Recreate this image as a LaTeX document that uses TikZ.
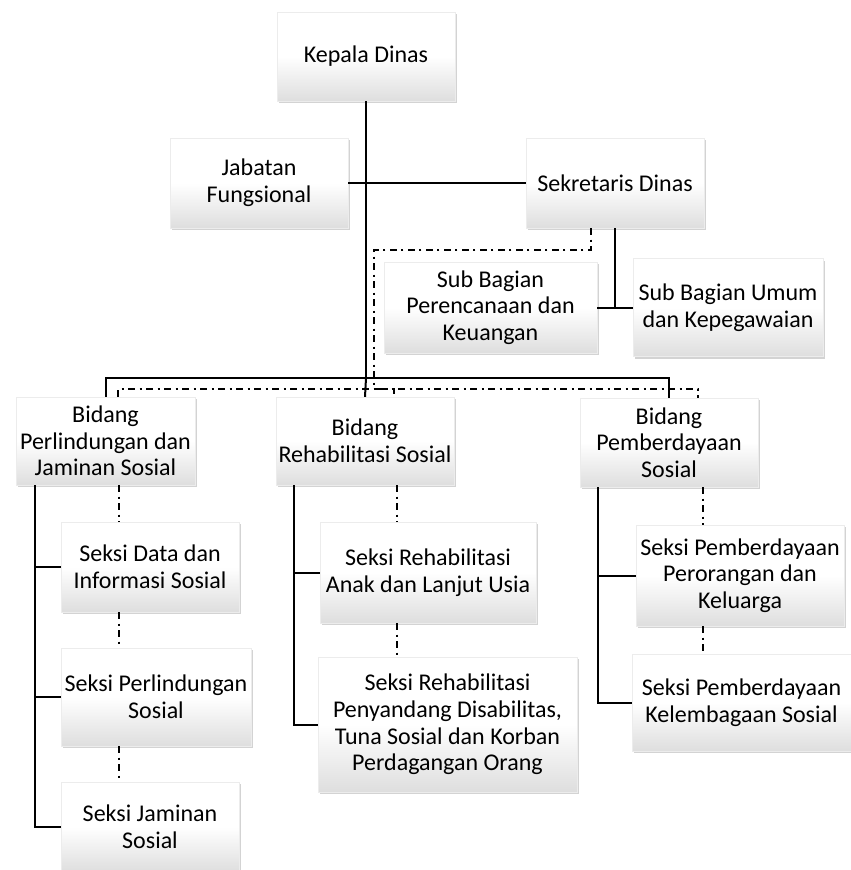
\documentclass[tikz,border=0pt]{standalone}
\usepackage{fontspec}
\setmainfont{Carlito}
\usepackage{tikz}
\usetikzlibrary{shadows}

\begin{document}
\begin{tikzpicture}[
    x=1pt, y=-1pt,
    font=\fontsize{24}{26.7}\selectfont,
    box/.style={rectangle, inner sep=0pt, align=center,
        top color=white, bottom color=gray!26, middle color=white,
        draw=gray!15, line width=0.4pt,
        drop shadow={shadow xshift=1.8pt, shadow yshift=-2.2pt, opacity=0.35}},
    link/.style={line width=2pt, color=black},
    coordlink/.style={line width=1.6pt, color=black,
        dash pattern=on 7pt off 4.5pt on 2pt off 4.5pt}
]
\useasboundingbox (0,0) rectangle (851,870);

% Top level
\node[box, minimum width=178pt, minimum height=89pt] (kepala) at (366,56.5) {Kepala Dinas};
\node[box, minimum width=178pt, minimum height=90pt] (jabatan) at (259,183) {Jabatan\\Fungsional};
\node[box, minimum width=178pt, minimum height=90pt] (sekretaris) at (615,183) {Sekretaris Dinas};

% Sub Bagian
\node[box, minimum width=213pt, minimum height=91pt] (perencanaan) at (490.5,307.5) {Sub Bagian\\Perencanaan dan\\Keuangan};
\node[box, minimum width=190pt, minimum height=98pt] (umum) at (728,307.5) {Sub Bagian Umum\\dan Kepegawaian};

% Bidang
\node[box, minimum width=179pt, minimum height=88pt] (perlindungan) at (105.5,441) {Bidang\\Perlindungan dan\\Jaminan Sosial};
\node[box, minimum width=178pt, minimum height=88pt] (rehab) at (365,441) {Bidang\\Rehabilitasi Sosial};
\node[box, minimum width=178pt, minimum height=89pt] (pemberdayaan) at (669,442.5) {Bidang\\Pemberdayaan\\Sosial};

% Seksi under Perlindungan dan Jaminan Sosial
\node[box, minimum width=178pt, minimum height=90pt] (data) at (150,567) {Seksi Data dan\\Informasi Sosial};
\node[box, minimum width=190pt, minimum height=98pt] (perlsos) at (156,697) {Seksi Perlindungan\\Sosial};
\node[box, minimum width=178pt, minimum height=90pt] (jaminan) at (150,827) {Seksi Jaminan\\Sosial};

% Seksi under Rehabilitasi Sosial
\node[box, minimum width=216pt, minimum height=101pt] (anak) at (428,572.5) {Seksi Rehabilitasi\\Anak dan Lanjut Usia};
\node[box, minimum width=259pt, minimum height=135pt] (penyandang) at (447.5,724.5) {Seksi Rehabilitasi\\Penyandang Disabilitas,\\Tuna Sosial dan Korban\\Perdagangan Orang};

% Seksi under Pemberdayaan Sosial
\node[box, minimum width=208pt, minimum height=101pt] (perorangan) at (740,575.5) {Seksi Pemberdayaan\\Perorangan dan\\Keluarga};
\node[box, minimum width=219pt, minimum height=97pt] (kelembagaan) at (741.5,702.5) {Seksi Pemberdayaan\\Kelembagaan Sosial};

% Command lines
\coordinate (bus) at (366,378);
\draw[link, line width=2.5pt] (kepala.south) -- (bus);
\draw[link] (jabatan.east) -- (sekretaris.west);
\draw[link] (perlindungan.north) |- (bus) -| (pemberdayaan.north);
\draw[link] (bus) -- (rehab.north);
\draw[link] (sekretaris.south) |- (perencanaan.east);
\draw[link] (perencanaan.east) -- (umum.west);

% Coordination lines
\coordinate (cd1) at (374,250);
\coordinate (cd2) at (374,389);
\draw[coordlink] ([xshift=-24pt]sekretaris.south) |- (cd1) -- (cd2);
\draw[coordlink] ([xshift=12.5pt]perlindungan.north) |- (cd2) -| ([xshift=29pt]pemberdayaan.north);
\draw[coordlink] (cd2) -| ([xshift=29pt]rehab.north);

% Bidang to Seksi
\foreach \s in {data,perlsos,jaminan}
  \draw[link] ([xshift=-70.5pt]perlindungan.south) |- (\s.west);
\foreach \s in {anak,penyandang}
  \draw[link] ([xshift=-71pt]rehab.south) |- (\s.west);
\foreach \s in {perorangan,kelembagaan}
  \draw[link] ([xshift=-71pt]pemberdayaan.south) |- (\s.west);

% Dotted links between Seksi
\coordinate (px) at ([xshift=13.5pt]perlindungan.south);
\draw[coordlink] (px) -- (px |- data.north);
\draw[coordlink] (px |- data.south) -- (px |- perlsos.north);
\draw[coordlink] (px |- perlsos.south) -- (px |- jaminan.north);

\coordinate (rx) at ([xshift=32pt]rehab.south);
\draw[coordlink] (rx) -- (rx |- anak.north);
\draw[coordlink] (rx |- anak.south) -- (rx |- penyandang.north);

\coordinate (ex) at ([xshift=34pt]pemberdayaan.south);
\draw[coordlink] (ex) -- (ex |- perorangan.north);
\draw[coordlink] (ex |- perorangan.south) -- (ex |- kelembagaan.north);

\end{tikzpicture}
\end{document}
